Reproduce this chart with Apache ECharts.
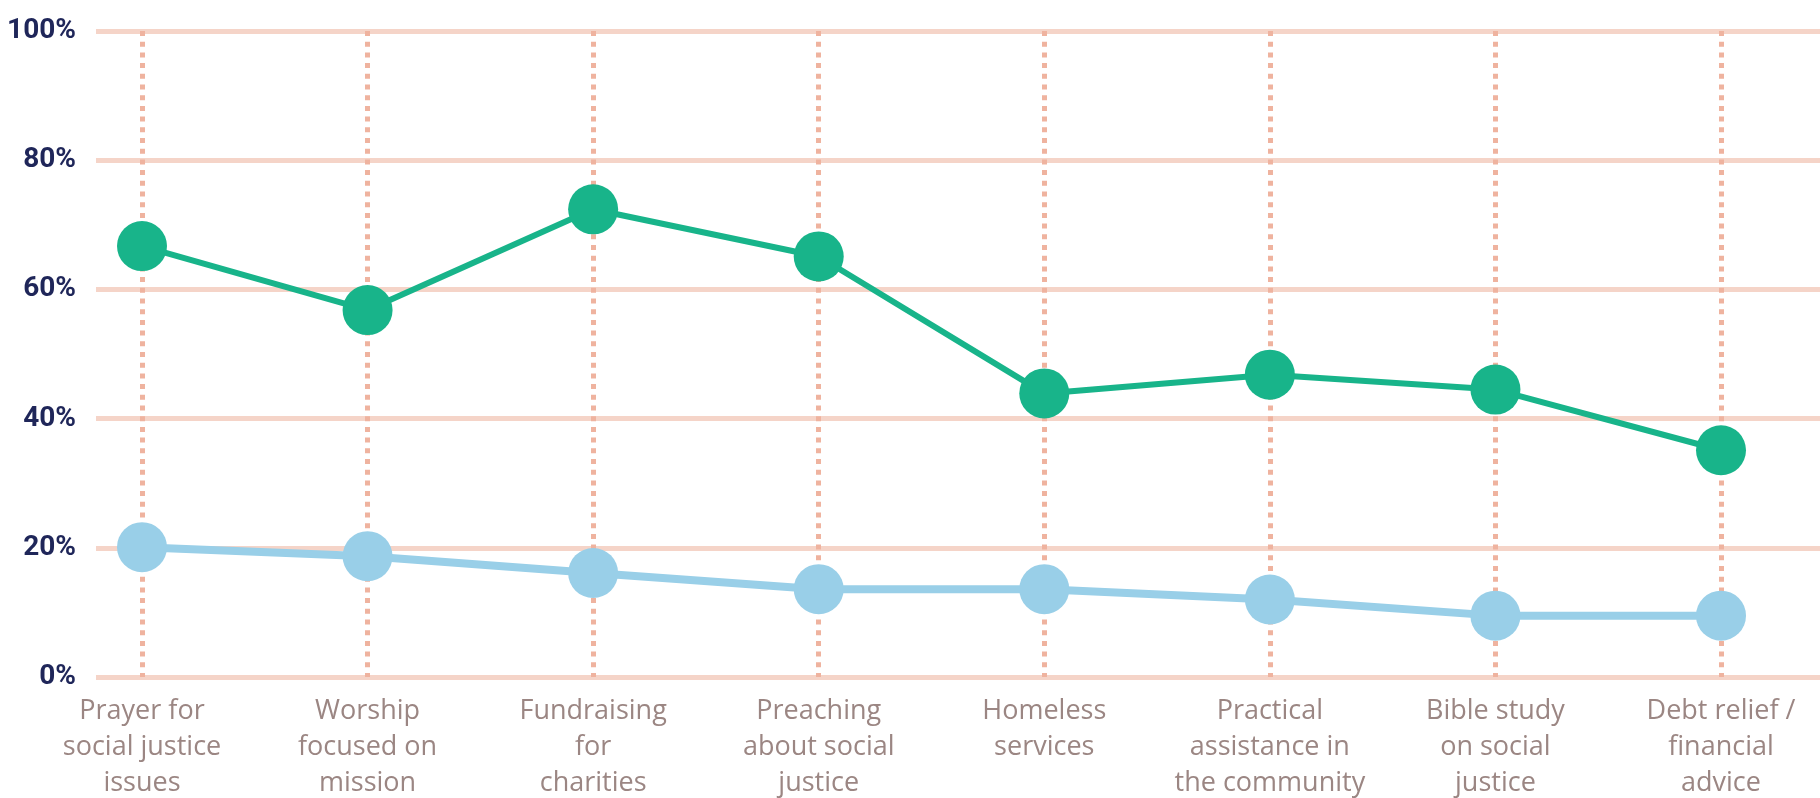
<!DOCTYPE html>
<html>
<head>
<meta charset="utf-8">
<title>Social justice activities</title>
<style>
  html, body { margin: 0; padding: 0; background: #fff; }
  #chart { width: 1820px; height: 798px; }
</style>
<script src="https://cdn.jsdelivr.net/npm/echarts@6/dist/echarts.min.js"></script>
</head>
<body>
<div id="chart"></div>
<script>
// tick labels on the x axis, line breaks as in the picture
const categories = [
    'Prayer for\nsocial justice\nissues',
    'Worship\nfocused on\nmission',
    'Fundraising\nfor\ncharities',
    'Preaching\nabout social\njustice',
    'Homeless\nservices',
    'Practical\nassistance in\nthe community',
    'Bible study\non social\njustice',
    'Debt relief /\nfinancial\nadvice'
];

// values in %
const upperSeries = [66.7, 56.8, 72.4, 65.1, 43.9, 46.8, 44.5, 35.1];
const lowerSeries = [20.1, 18.7, 16.1, 13.6, 13.6, 12.0, 9.5, 9.5];

const yTicks = [0, 20, 40, 60, 80, 100];

const chart = echarts.init(document.getElementById('chart'));

chart.setOption({
    animation: false,
    backgroundColor: '#fff',
    // grid 0 holds the long horizontal lines, grid 1 the categories and lines
    grid: [
        { left: 96, right: 0, top: 31, bottom: 121, outerBoundsMode: 'none' },
        { left: 142, right: 99, top: 31, bottom: 121, outerBoundsMode: 'none' }
    ],
    xAxis: [
        { gridIndex: 0, type: 'value', min: 0, max: 1, show: false },
        {
            gridIndex: 1,
            type: 'category',
            data: categories,
            boundaryGap: false,
            axisLine: { show: false },
            axisTick: { show: false },
            axisLabel: {
                interval: 0,
                margin: 16,
                color: '#9b8683',
                fontFamily: 'Open Sans',
                fontSize: 27,
                lineHeight: 36
            },
            splitLine: {
                show: true,
                lineStyle: { color: '#efb39f', width: 5, type: [5, 5.7] }
            }
        }
    ],
    yAxis: [
        {
            gridIndex: 0,
            type: 'value',
            min: yTicks[0],
            max: yTicks[yTicks.length - 1],
            interval: yTicks[1] - yTicks[0],
            axisLine: { show: false },
            axisTick: { show: false },
            axisLabel: {
                margin: 20,
                formatter: '{value}%',
                color: '#1f2659',
                fontFamily: 'Roboto',
                fontWeight: 'bold',
                fontSize: 28
            },
            splitLine: { lineStyle: { color: '#f5d4c8', width: 5 } }
        },
        {
            gridIndex: 1,
            type: 'value',
            min: yTicks[0],
            max: yTicks[yTicks.length - 1],
            interval: yTicks[1] - yTicks[0],
            show: false
        }
    ],
    series: [
        {
            name: 'Upper',
            type: 'line',
            xAxisIndex: 1,
            yAxisIndex: 1,
            data: upperSeries,
            symbol: 'circle',
            symbolSize: 50,
            itemStyle: { color: '#18b48a' },
            lineStyle: { color: '#18b48a', width: 6 },
            z: 3
        },
        {
            name: 'Lower',
            type: 'line',
            xAxisIndex: 1,
            yAxisIndex: 1,
            data: lowerSeries,
            symbol: 'circle',
            symbolSize: 50,
            itemStyle: { color: '#99cfe8' },
            lineStyle: { color: '#99cfe8', width: 8 },
            z: 3
        }
    ]
});

window.addEventListener('resize', () => chart.resize());
</script>
</body>
</html>
